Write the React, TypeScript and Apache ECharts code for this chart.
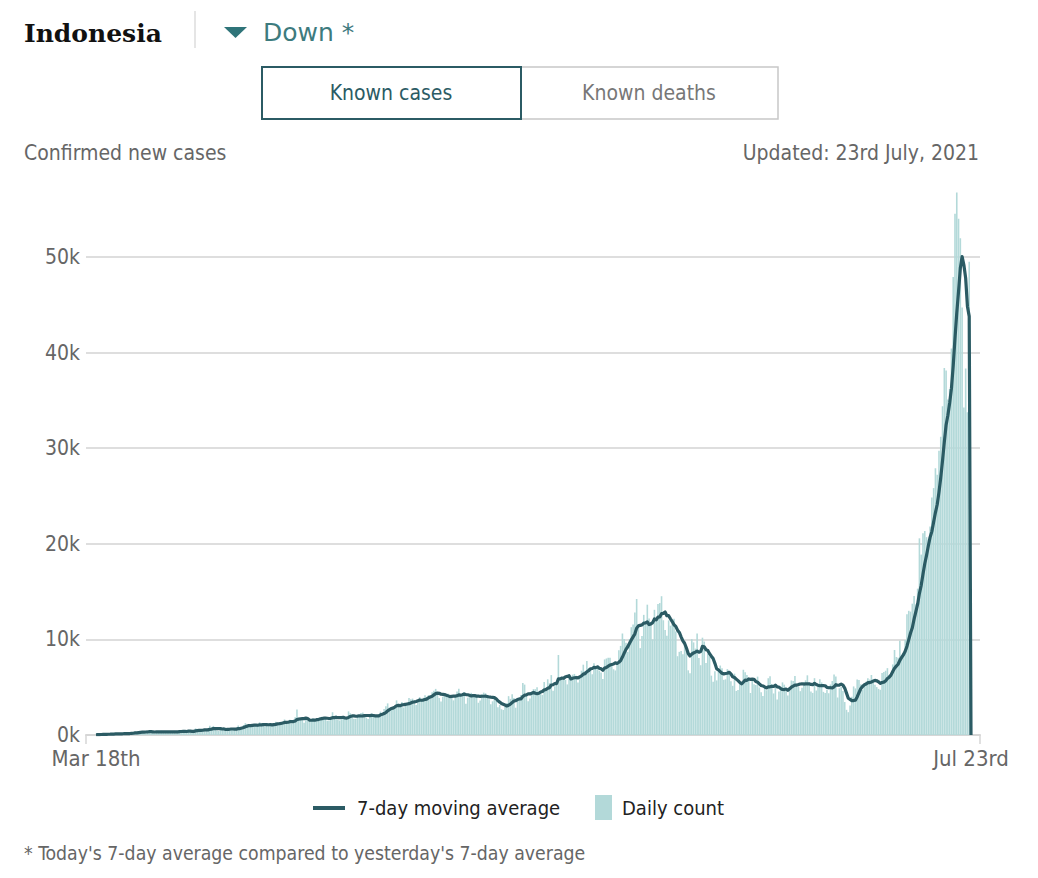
import React, { useEffect, useRef } from "react";
import * as echarts from "echarts";

// Daily new confirmed cases, Indonesia
const priorWindow = [0, 35, 27, 21, 17, 38]; // Mar 12–17, 2020 (for the 7-day window)
const mar2020 = [55, 82, 60, 81, 64, 65, 107, 104, 103, 153, 109, 130, 129, 114];
const apr2020 = [149, 113, 196, 106, 181, 218, 247, 218, 337, 219, 330, 399, 316, 282, 297, 380, 407, 325, 327, 185, 375, 283, 357, 436, 396, 275, 214, 415, 260, 347];
const may2020 = [433, 292, 349, 395, 484, 367, 338, 336, 533, 387, 233, 484, 689, 568, 490, 529, 489, 496, 486, 693, 973, 634, 949, 526, 479, 415, 686, 687, 678, 557, 700];
const jun2020 = [467, 609, 684, 585, 703, 993, 672, 847, 1043, 1240, 979, 1111, 1014, 857, 1017, 1106, 1031, 1331, 1041, 1226, 862, 954, 1051, 1113, 1178, 1240, 1385, 1198, 1082, 1293];
const jul2020 = [1385, 1624, 1301, 1447, 1607, 1209, 1268, 1853, 2657, 1611, 1671, 1681, 1282, 1591, 1522, 1574, 1462, 1752, 1639, 1693, 1655, 1882, 1906, 1761, 1868, 1492, 1525, 1748, 2381, 1904, 2040];
const aug2020 = [1560, 1519, 1679, 1922, 1815, 1882, 2473, 2277, 1893, 1687, 1693, 1942, 2098, 2307, 2345, 2081, 1821, 1673, 1902, 2266, 2197, 2090, 2037, 1877, 2447, 2306, 2719, 3003, 3308, 2858, 2743];
const sep2020 = [2775, 3075, 3622, 3269, 3128, 3444, 2880, 3046, 3307, 3861, 3737, 3806, 3636, 3141, 3507, 3963, 3635, 3891, 4168, 3989, 4176, 4071, 4465, 4634, 4823, 4494, 3874, 3509, 4002, 4284];
const oct2020 = [4174, 4317, 4007, 3992, 3622, 4056, 4538, 4850, 4094, 4294, 4497, 3267, 3906, 4127, 4411, 4301, 4301, 4105, 3373, 3602, 4267, 4432, 4369, 4070, 3732, 3222, 3520, 4029, 3565, 2897, 3143];
const nov2020 = [2696, 2618, 2973, 3356, 4065, 3778, 4262, 3880, 2853, 3779, 3770, 4173, 5444, 5272, 4106, 3535, 3807, 4265, 4798, 4792, 4998, 4360, 4442, 4192, 5534, 4917, 5828, 5418, 6267, 4617];
const dec2020 = [5092, 5533, 8369, 5803, 6027, 6089, 5754, 5292, 6058, 6033, 6310, 6388, 6189, 5489, 6120, 6725, 7354, 6689, 7751, 6982, 6848, 6347, 7514, 7199, 7259, 6740, 6528, 5854, 7903, 8002, 8074];
const jan2021 = [8072, 7203, 6877, 6753, 7445, 8854, 9321, 10617, 10046, 9640, 8692, 10047, 11278, 11557, 12818, 14224, 11287, 9086, 10365, 12568, 11703, 13632, 12191, 11788, 9994, 13094, 11948, 13695, 13802, 14518, 12001];
const feb2021 = [10994, 10379, 11984, 11434, 11749, 12156, 10827, 8242, 8700, 8776, 8435, 9869, 8844, 6765, 6462, 10029, 9687, 9039, 10614, 8054, 7300, 10180, 9775, 7533, 8493, 8232, 6208, 5560];
const mar2021 = [6680, 5712, 6808, 7264, 6971, 5767, 5826, 6894, 6389, 5633, 5144, 6412, 4607, 4714, 5589, 5414, 6825, 6570, 6279, 5656, 4396, 5744, 5297, 5227, 6107, 4982, 4461, 4083, 5008, 4682, 5937];
const apr2021 = [6142, 5325, 4345, 5057, 3712, 4549, 4860, 5504, 5265, 4723, 4127, 4829, 5702, 5656, 6177, 5363, 5041, 4585, 4952, 5549, 5720, 6243, 5436, 4544, 4402, 5944, 4656, 5241, 5833, 5500];
const may2021 = [4512, 4394, 4730, 4369, 5285, 5647, 6327, 6130, 3922, 4891, 5021, 4608, 3448, 2633, 2385, 3080, 3992, 5080, 4871, 5797, 5746, 5296, 4723, 5258, 5576, 5943, 5797, 6278, 5868, 5245, 5014];
const jun2021 = [4824, 4725, 6486, 6594, 6724, 6993, 6000, 6294, 7383, 8892, 8161, 8083, 9868, 8189, 8161, 9944, 12624, 12990, 12906, 13737, 14536, 13668, 15308, 20574, 18872, 21095, 21342, 20694, 20467, 21807];
const jul2021: (number | null)[] = [24836, 25830, 27913, 27233, 29745, 31189, 34379, 38391, 38124, 35094, 36197, 40427, 47899, 54517, 56757, 54000, 51952, 44721, 34257, 38325, 33772, 49509, null];

const xLabelTexts = ["Mar 18th", "Jul 23rd"];
const yTickValues = [0, 10000, 20000, 30000, 40000, 50000];

const daily: (number | null)[] = [
  ...mar2020, ...apr2020, ...may2020, ...jun2020, ...jul2020, ...aug2020,
  ...sep2020, ...oct2020, ...nov2020, ...dec2020, ...jan2021, ...feb2021,
  ...mar2021, ...apr2021, ...may2021, ...jun2021, ...jul2021,
];

function sevenDayAverage(values: (number | null)[], prior: number[]): number[] {
  const all = [...prior, ...values];
  return values.map((v, i) => {
    if (v == null) return 0;
    const j = i + prior.length;
    let s = 0;
    for (let k = j - 6; k <= j; k++) s += (all[k] as number) || 0;
    return s / 7;
  });
}

const avg = sevenDayAverage(daily, priorWindow);

const FONT = '"DejaVu Sans Condensed", "Liberation Sans Narrow", sans-serif';
const DARK_TEAL = "#2b5b64";

export default function App() {
  const ref = useRef<HTMLDivElement>(null);
  useEffect(() => {
    if (!ref.current) return;
    const chart = echarts.init(ref.current, undefined, { renderer: "svg" });
    const last = daily.length - 1;
    const xMin = -5.62;
    const xMax = last + 5.06;
    const labelPositions = [0, last];
    chart.setOption({
      animation: false,
      backgroundColor: "#ffffff",
      grid: { left: 86, right: 58, top: 161.4, bottom: 143 },
      xAxis: {
        type: "value",
        min: xMin,
        max: xMax,
        axisLine: { show: true, lineStyle: { color: "#d6d6d6", width: 2 } },
        axisTick: { show: true, customValues: [xMin, xMax], length: 9, lineStyle: { color: "#d6d6d6", width: 1.5 } },
        axisLabel: {
          customValues: labelPositions,
          formatter: (v: number) => (Math.abs(v) < 0.5 ? xLabelTexts[0] : xLabelTexts[1]),
          color: "#666",
          fontSize: 22,
          fontFamily: FONT,
          margin: 12,
        },
        splitLine: { show: false },
      },
      yAxis: {
        type: "value",
        min: 0,
        max: 60000,
        interval: 10000,
        axisLine: { show: false },
        axisTick: { show: false },
        axisLabel: {
          showMaxLabel: false,
          formatter: (v: number) => (yTickValues.includes(v) ? v / 1000 + "k" : ""),
          color: "#666",
          fontSize: 21,
          fontFamily: FONT,
          margin: 6,
        },
        splitLine: {
          lineStyle: {
            color: ["#dedede", "#dedede", "#dedede", "#dedede", "#dedede", "#dedede", "rgba(0,0,0,0)"],
            width: 2,
          },
        },
      },
      legend: [
        {
          data: [{ name: "7-day moving average", icon: "rect" }],
          left: 313,
          top: 798,
          padding: 0,
          itemWidth: 32,
          itemHeight: 4,
          selectedMode: false,
          textStyle: { color: "#222", fontSize: 20, fontFamily: FONT, padding: [0, 0, 0, 7] },
        },
        {
          data: [{ name: "Daily count", icon: "rect" }],
          left: 595,
          top: 795,
          padding: 0,
          itemWidth: 17,
          itemHeight: 25,
          selectedMode: false,
          textStyle: { color: "#222", fontSize: 20, fontFamily: FONT, padding: [0, 0, 0, 5] },
        },
      ],
      series: [
        {
          name: "Daily count",
          type: "bar",
          data: daily.map((v, i) => [i, v]),
          barWidth: 1.6,
          itemStyle: { color: "#b3d9d9" },
          z: 1,
        },
        {
          name: "7-day moving average",
          type: "line",
          data: avg.map((v, i) => [i, v]),
          symbol: "none",
          lineStyle: { color: DARK_TEAL, width: 3.2, join: "round" },
          itemStyle: { color: DARK_TEAL },
          z: 2,
        },
      ],
      graphic: [
        { type: "text", left: 24, top: 21, style: { text: "Indonesia", fontFamily: '"DejaVu Serif", serif', fontWeight: "bold", fontSize: 25, fill: "#111" } },
        { type: "line", shape: { x1: 195, y1: 11, x2: 195, y2: 48 }, style: { stroke: "#dcdcdc", lineWidth: 1.5 } },
        { type: "polygon", shape: { points: [[224, 27], [247, 27], [235.5, 38]] }, style: { fill: "#2f7479" } },
        { type: "text", left: 263, top: 20, style: { text: "Down *", fontFamily: '"DejaVu Sans", sans-serif', fontSize: 25, fill: "#3d7b7e" } },
        { type: "rect", shape: { x: 521, y: 67, width: 257, height: 52 }, style: { fill: "#fff", stroke: "#c8c8c8", lineWidth: 1.5 } },
        { type: "rect", shape: { x: 262, y: 67, width: 259, height: 52 }, style: { fill: "#fff", stroke: DARK_TEAL, lineWidth: 2 } },
        { type: "text", x: 391, y: 93, style: { text: "Known cases", align: "center", verticalAlign: "middle", fontFamily: FONT, fontSize: 21, fill: DARK_TEAL } },
        { type: "text", x: 649, y: 93, style: { text: "Known deaths", align: "center", verticalAlign: "middle", fontFamily: FONT, fontSize: 21, fill: "#777" } },
        { type: "text", x: 24, y: 153, style: { text: "Confirmed new cases", verticalAlign: "middle", fontFamily: FONT, fontSize: 21, fill: "#666" } },
        { type: "text", x: 979, y: 153, style: { text: "Updated: 23rd July, 2021", align: "right", verticalAlign: "middle", fontFamily: FONT, fontSize: 21, fill: "#666" } },
        { type: "text", x: 24, y: 853, style: { text: "* Today's 7-day average compared to yesterday's 7-day average", verticalAlign: "middle", fontFamily: FONT, fontSize: 19.3, fill: "#666" } },
      ],
    });
    return () => chart.dispose();
  }, []);
  return <div ref={ref} style={{ position: "fixed", left: 0, top: 0, width: 1038, height: 878 }} />;
}
